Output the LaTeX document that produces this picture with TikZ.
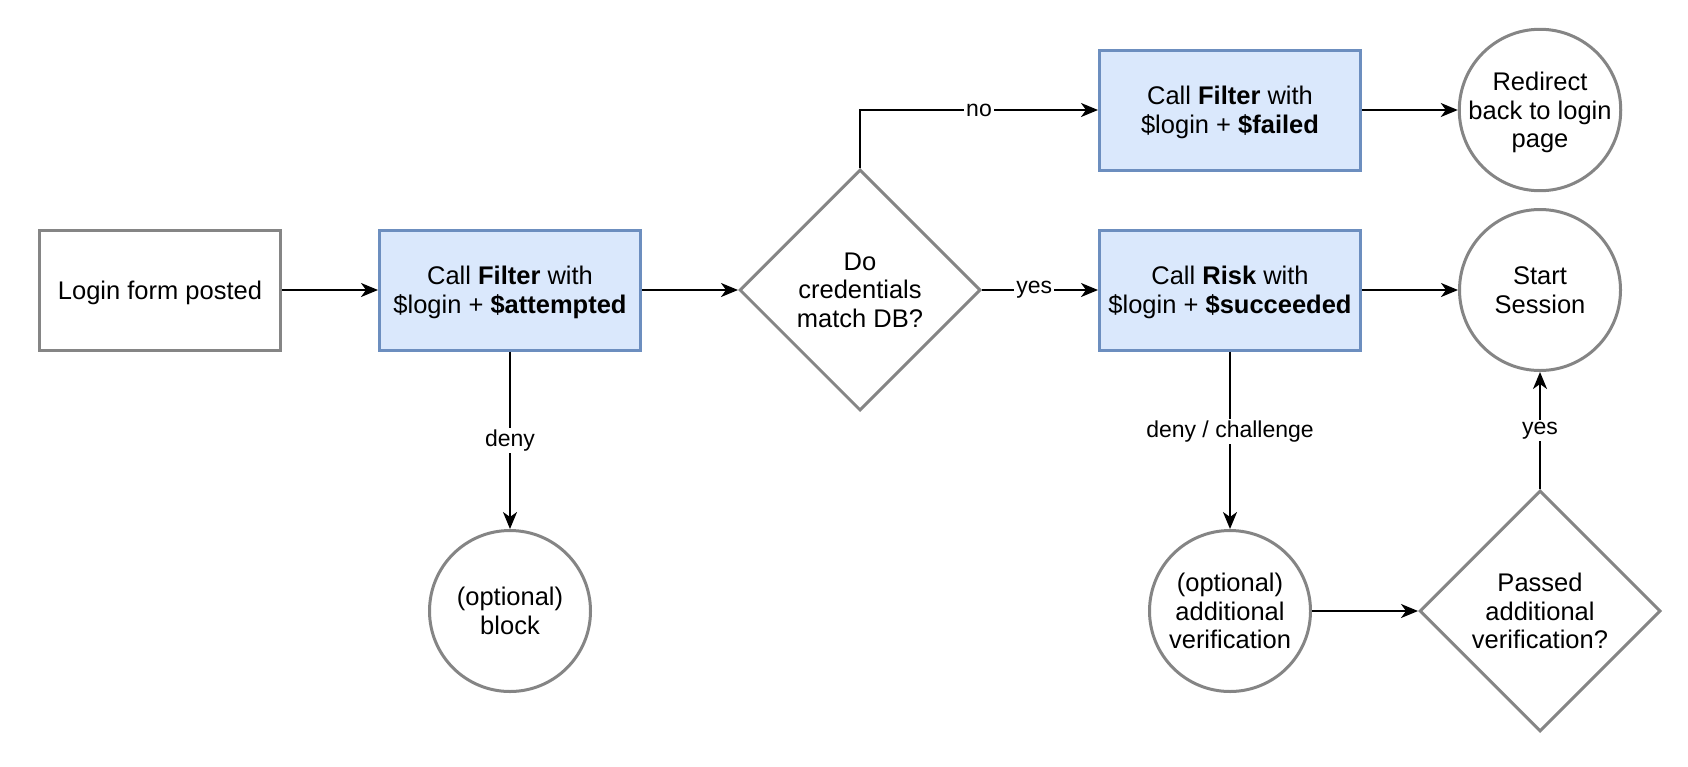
\documentclass[tikz,border=0pt]{standalone}
\usepackage{fontspec}
\setmainfont{Liberation Sans}
\usetikzlibrary{arrows.meta,shapes.geometric}
\definecolor{bordergray}{HTML}{858585}
\definecolor{bluefill}{HTML}{DAE8FC}
\definecolor{bluestroke}{HTML}{6C8EBF}
\begin{document}
\begin{tikzpicture}[x=1pt,y=-1pt,
  every node/.style={font=\fontsize{25.5}{28.5}\selectfont, align=center, inner sep=0pt},
  shapetext/.style={text depth=0pt},
  plainbox/.style={shapetext, draw=bordergray, line width=3pt, fill=white, minimum width=241pt, minimum height=120pt},
  callbox/.style={shapetext, draw=bluestroke, line width=3pt, fill=bluefill, minimum width=261pt, minimum height=120pt},
  endcircle/.style={shapetext, circle, draw=bordergray, line width=3pt, fill=white, minimum size=161pt},
  decision/.style={shapetext, diamond, draw=bordergray, line width=3pt, fill=white, minimum width=241pt, minimum height=241pt, aspect=1},
  flow/.style={draw=black, line width=2pt, -{Stealth[length=17pt,width=14pt,inset=5pt]}},
  edgelabel/.style={font=\fontsize{23}{26}\selectfont, fill=white, inner sep=2pt}
]
\useasboundingbox (0,0) rectangle (1688,766);

\node[plainbox] (login) at (160,290) {Login form posted};
\node[callbox] (attempt) at (510,290) {Call \textbf{Filter} with\\\$login + \textbf{\$attempted}};
\node[decision] (match) at (860,290) {Do\\credentials\\match DB?};
\node[callbox] (failed) at (1230,110) {Call \textbf{Filter} with\\\$login + \textbf{\$failed}};
\node[callbox] (risk) at (1230,290) {Call \textbf{Risk} with\\\$login + \textbf{\$succeeded}};
\node[endcircle] (redirect) at (1540,110) {Redirect\\back to login\\page};
\node[endcircle] (start) at (1540,290) {Start\\Session};
\node[endcircle] (block) at (510,611) {(optional)\\block};
\node[endcircle] (addver) at (1230,611) {(optional)\\additional\\verification};
\node[decision] (passed) at (1540,611) {Passed\\additional\\verification?};

\draw[flow] (login) -- (attempt);
\draw[flow] (attempt) -- (match);
\draw[flow] (match) -- node[edgelabel, pos=0.45] {yes} (risk);
\draw[flow] (match.north) |- node[edgelabel, pos=0.75] {no} (failed.west);
\draw[flow] (failed) -- (redirect);
\draw[flow] (risk) -- (start);
\draw[flow] (attempt) -- node[edgelabel] {deny} (block);
\draw[flow] (risk) -- node[edgelabel, pos=0.45] {deny / challenge} (addver);
\draw[flow] (addver) -- (passed);
\draw[flow] (passed) -- node[edgelabel] {yes} (start);
\end{tikzpicture}
\end{document}
